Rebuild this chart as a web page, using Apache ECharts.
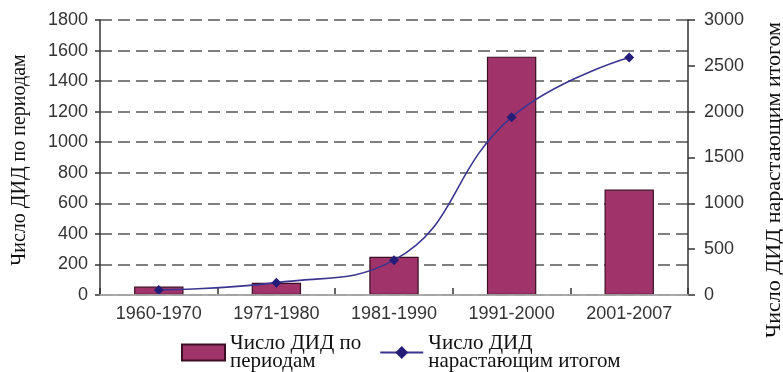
<!DOCTYPE html>
<html>
<head>
<meta charset="utf-8">
<script src="https://cdn.jsdelivr.net/npm/echarts@6/dist/echarts.min.js"></script>
<style>
html,body{margin:0;padding:0;background:#fff;}
#chart{width:783px;height:372px;}
</style>
</head>
<body>
<div id="chart"></div>
<script>
// Periods and counts
var periods = ['1960-1970', '1971-1980', '1981-1990', '1991-2000', '2001-2007'];
var perPeriod = [55, 80, 250, 1560, 690];
var cumulative = [55, 135, 380, 1940, 2590];

var barName = 'Число ДИД по\nпериодам';
var lineName = 'Число ДИД\nнарастающим итогом';
var leftTitle = 'Число ДИД по периодам';
var rightTitle = 'Число ДИД нарастающим итогом';

var chart = echarts.init(document.getElementById('chart'));
var sans = 'Liberation Sans, Arial, sans-serif';
var serif = 'Liberation Serif, Times New Roman, serif';
var axisFont = { fontFamily: sans, fontSize: 18, color: '#333' };
var plain = function (v) { return String(v); };

chart.setOption({
  animation: false,
  grid: { left: 100, right: 95, top: 20, bottom: 77 },
  legend: {
    left: 176, top: 328,
    itemGap: 18,
    itemWidth: 43,
    itemHeight: 16,
    textStyle: { fontFamily: serif, fontSize: 21, color: '#111', lineHeight: 18 },
    data: [
      { name: barName, icon: 'rect' },
      { name: lineName }
    ]
  },
  graphic: [{
    type: 'text',
    x: 20, y: 160,
    rotation: Math.PI / 2,
    style: { text: leftTitle, font: '20px ' + serif, fill: '#111', align: 'center', verticalAlign: 'middle' }
  }, {
    type: 'text',
    x: 774, y: 180,
    rotation: Math.PI / 2,
    style: { text: rightTitle, font: '22px ' + serif, fill: '#111', align: 'center', verticalAlign: 'middle' }
  }],
  xAxis: [{
    type: 'category',
    data: periods,
    axisLine: { lineStyle: { color: '#333', width: 1.5 } },
    axisTick: { show: true, inside: true, length: 7, lineStyle: { color: '#333', width: 1.5 } },
    axisLabel: Object.assign({ margin: 10 }, axisFont)
  }, {
    type: 'category',
    position: 'top',
    data: periods,
    z: 5,
    axisLine: { lineStyle: { color: '#c4c4c4', width: 1.5 } },
    axisTick: { show: false },
    axisLabel: { show: false }
  }],
  yAxis: [{
    type: 'value',
    min: 0, max: 1800, interval: 200,
    axisLine: { show: true, lineStyle: { color: '#333', width: 1.5 } },
    axisTick: { show: true, length: 5, lineStyle: { color: '#333', width: 1.5 } },
    axisLabel: Object.assign({ margin: 12, formatter: plain }, axisFont),
    splitLine: { show: true, lineStyle: { color: '#555', width: 1.5, type: [12, 6] } }
  }, {
    type: 'value',
    position: 'right',
    min: 0, max: 3000, interval: 500,
    axisLine: { show: true, lineStyle: { color: '#333', width: 1.5 } },
    axisTick: { show: true, length: 7, lineStyle: { color: '#333', width: 1.5 } },
    axisLabel: Object.assign({ margin: 16, formatter: plain }, axisFont),
    splitLine: { show: false }
  }],
  series: [{
    name: barName,
    type: 'bar',
    data: perPeriod,
    barWidth: '42%',
    itemStyle: { color: '#a0346a', borderColor: '#3a0f24', borderWidth: 1.2 }
  }, {
    name: lineName,
    type: 'line',
    yAxisIndex: 1,
    data: cumulative,
    smooth: 0.45,
    symbol: 'diamond',
    symbolSize: 10,
    lineStyle: { color: '#3b3590', width: 1.6 },
    itemStyle: { color: '#231c78' }
  }]
});
</script>
</body>
</html>
